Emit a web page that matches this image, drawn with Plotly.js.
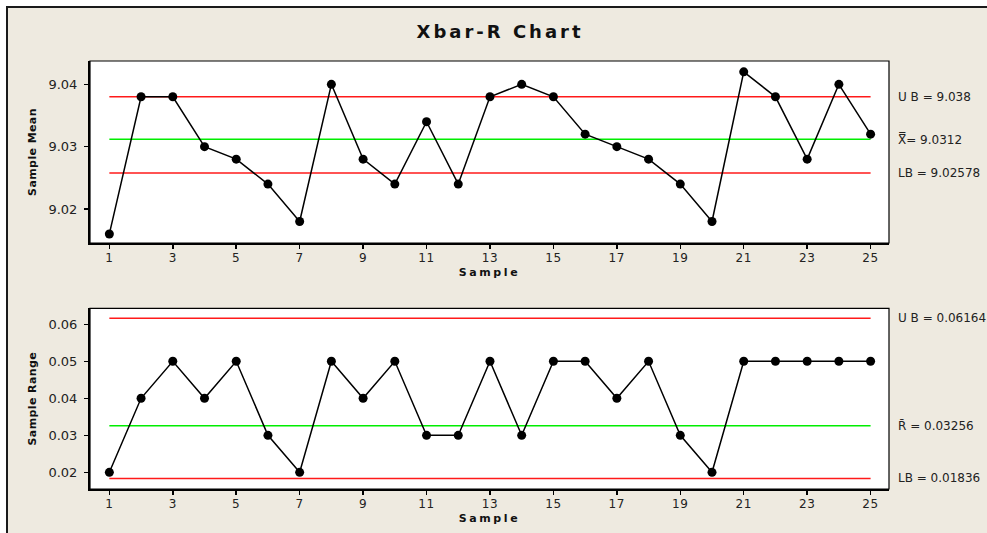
<!DOCTYPE html>
<html>
<head>
<meta charset="utf-8">
<script src="https://cdn.plot.ly/plotly-3.0.1.min.js"></script>
<style>
  html, body { margin:0; padding:0; background:#ffffff; }
  #frame { position:absolute; left:6px; top:6px; width:981px; height:527px; box-sizing:border-box;
           border-left:2px solid #1a1a1a; border-top:2px solid #1a1a1a; background:#EEEAE0; }
  #plot { position:absolute; left:8px; top:8px; width:979px; height:525px; }
  #plot .gtitle { letter-spacing:3px; }
  #plot .xtitle, #plot .x2title { letter-spacing:2.6px; }
  #plot .ytitle, #plot .y2title { letter-spacing:0.4px; }
  #plot .xtick text, #plot .x2tick text { letter-spacing:0.6px; }
</style>
</head>
<body>
<div id="frame"></div>
<div id="plot"></div>
<script>
// ---- data ----
const samples = [1,2,3,4,5,6,7,8,9,10,11,12,13,14,15,16,17,18,19,20,21,22,23,24,25];
const sampleMeans = [9.016,9.038,9.038,9.030,9.028,9.024,9.018,9.040,9.028,9.024,9.034,9.024,9.038,
                     9.040,9.038,9.032,9.030,9.028,9.024,9.018,9.042,9.038,9.028,9.040,9.032];
const sampleRanges = [0.02,0.04,0.05,0.04,0.05,0.03,0.02,0.05,0.04,0.05,0.03,0.03,0.05,
                      0.03,0.05,0.05,0.04,0.05,0.03,0.02,0.05,0.05,0.05,0.05,0.05];
const meanLimits = {ub: 9.038, center: 9.0312, lb: 9.02578};
const rangeLimits = {ub: 0.06164, center: 0.03256, lb: 0.01836};
const meanLabels = ["U B = 9.038", "X\u033F= 9.0312", "LB = 9.02578"];
const rangeLabels = ["U B = 0.06164", "R\u0304 = 0.03256", "LB = 0.01836"];
const xEnds = [samples[0], samples[samples.length-1]];

const RED = '#ff1a1a', GREEN = '#00ee00';
function hline(val, color, xa, ya) {
  return {x: xEnds, y: [val, val], xaxis: xa, yaxis: ya, mode: 'lines',
          line: {color: color, width: 1.5}, hoverinfo: 'skip', showlegend: false};
}
const traces = [
  hline(meanLimits.ub, RED, 'x', 'y'),
  hline(meanLimits.center, GREEN, 'x', 'y'),
  hline(meanLimits.lb, RED, 'x', 'y'),
  {x: samples, y: sampleMeans, xaxis: 'x', yaxis: 'y', mode: 'lines+markers',
   line: {color: '#000', width: 1.5}, marker: {color: '#000', size: 9}, showlegend: false},
  hline(rangeLimits.ub, RED, 'x2', 'y2'),
  hline(rangeLimits.center, GREEN, 'x2', 'y2'),
  hline(rangeLimits.lb, RED, 'x2', 'y2'),
  {x: samples, y: sampleRanges, xaxis: 'x2', yaxis: 'y2', mode: 'lines+markers',
   line: {color: '#000', width: 1.5}, marker: {color: '#000', size: 9}, showlegend: false}
];

const FONT = 'DejaVu Sans, Verdana, sans-serif';
const tickFont = {family: FONT, size: 12, color: '#222'};
const yTickFont = {family: FONT, size: 13, color: '#222'};
const titleFont = {family: FONT, size: 11, color: '#111', weight: 'bold'};

function xAxis(anchor) {
  return {anchor: anchor, range: [0.39, 25.58], tick0: 1, dtick: 2, ticks: 'outside', ticklen: 4,
          tickwidth: 1.5, tickcolor: '#000', showline: true, linewidth: 2, linecolor: '#000',
          showgrid: false, zeroline: false, tickfont: tickFont, ticklabelstandoff: -1,
          title: {text: 'Sample', font: titleFont, standoff: 4}};
}
function yAxis(anchor, domain, range, title) {
  return {anchor: anchor, domain: domain, range: range, dtick: 0.01, tickformat: '.2f',
          ticks: 'outside', ticklen: 4, tickwidth: 1.5, tickcolor: '#000', showline: true,
          linewidth: 2, linecolor: '#000', showgrid: false, zeroline: false, tickfont: yTickFont,
          ticklabelstandoff: 4,
          title: {text: title, font: titleFont, standoff: 10}};
}

const annFont = {family: FONT, size: 12, color: '#222'};
function ann(text, y, ya) {
  return {text: text, xref: 'paper', x: 1, xanchor: 'left', xshift: 7, yref: ya, y: y,
          yanchor: 'middle', showarrow: false, font: annFont};
}
const annotations = [
  ann(meanLabels[0], meanLimits.ub, 'y'),
  ann(meanLabels[1], meanLimits.center, 'y'),
  ann(meanLabels[2], meanLimits.lb, 'y'),
  ann(rangeLabels[0], rangeLimits.ub, 'y2'),
  ann(rangeLabels[1], rangeLimits.center, 'y2'),
  ann(rangeLabels[2], rangeLimits.lb, 'y2')
];

const shapes = [
  {type: 'rect', xref: 'x domain', yref: 'y domain', x0: 0, x1: 1, y0: 0, y1: 1,
   line: {color: '#000', width: 1.2}, layer: 'below'},
  {type: 'rect', xref: 'x2 domain', yref: 'y2 domain', x0: 0, x1: 1, y0: 0, y1: 1,
   line: {color: '#000', width: 1.2}, layer: 'below'}
];

const layout = {
  width: 979, height: 525,
  margin: {l: 82, r: 98, t: 53, b: 44},
  paper_bgcolor: '#EEEAE0', plot_bgcolor: '#ffffff',
  title: {text: 'Xbar-R Chart', font: {family: FONT, size: 18, color: '#111', weight: 'bold'},
          x: 0.5026, xref: 'container', xanchor: 'center', y: 0.954, yanchor: 'middle'},
  xaxis: xAxis('y'),
  yaxis: yAxis('x', [0.5748, 1], [9.01455, 9.04374], 'Sample Mean'),
  xaxis2: xAxis('y2'),
  yaxis2: yAxis('x2', [0, 0.4222], [0.01549, 0.06432], 'Sample Range'),
  annotations: annotations,
  shapes: shapes,
  showlegend: false
};

Plotly.newPlot('plot', traces, layout, {staticPlot: true, displayModeBar: false});
</script>
</body>
</html>
